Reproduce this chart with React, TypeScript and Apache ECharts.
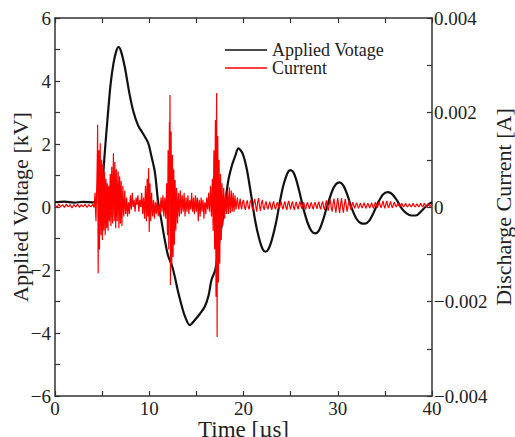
import React, { useEffect, useRef } from "react";
import * as echarts from "echarts";

// Time axis ticks (µs)
const timeTicks = [0, 10, 20, 30, 40];

// Applied voltage: [time µs, kV]
const voltagePoints: [number, number][] = [
  [0, 0.15], [1, 0.17], [2, 0.14], [3, 0.16], [4, 0.15], [4.8, 0.17],
  [5.0, 0.6], [5.3, 1.8], [5.6, 2.9], [5.9, 3.9], [6.2, 4.55], [6.5, 4.95],
  [6.75, 5.08], [7.0, 4.95], [7.4, 4.45], [7.9, 3.6], [8.3, 3.05], [8.8, 2.6],
  [9.3, 2.35], [9.9, 2.02], [10.2, 1.65], [10.6, 1.1], [10.95, 0.15], [11.3, -0.45],
  [11.65, -1.05], [12.0, -1.55], [12.4, -1.85], [12.7, -2.2], [13.1, -2.74],
  [13.5, -3.2], [13.8, -3.48], [14.3, -3.75], [14.8, -3.6], [15.4, -3.38],
  [15.9, -3.16], [16.3, -2.8], [16.6, -2.32], [17.0, -2.0], [17.3, -1.4],
  [17.5, -0.94], [18.0, 0.0], [18.4, 0.86], [18.8, 1.35], [19.1, 1.6],
  [19.45, 1.86], [19.9, 1.7], [20.35, 1.2], [20.8, 0.4], [21.25, -0.45],
  [21.7, -1.05], [22.05, -1.35], [22.35, -1.42], [22.65, -1.33], [23.0, -1.05],
  [23.45, -0.5], [23.85, 0.15], [24.2, 0.65], [24.5, 0.95], [24.75, 1.12],
  [25.0, 1.17], [25.3, 1.1], [25.6, 0.86], [26.0, 0.4], [26.4, -0.1],
  [26.8, -0.5], [27.2, -0.76], [27.6, -0.84], [28.0, -0.75], [28.4, -0.45],
  [28.85, 0.0], [29.4, 0.5], [29.8, 0.72], [30.2, 0.78], [30.6, 0.68],
  [31.0, 0.4], [31.5, -0.05], [32.0, -0.38], [32.5, -0.52], [32.9, -0.53],
  [33.3, -0.45], [33.8, -0.18], [34.3, 0.15], [34.8, 0.4], [35.3, 0.47],
  [35.8, 0.4], [36.3, 0.2], [36.8, -0.05], [37.3, -0.2], [37.8, -0.27],
  [38.3, -0.27], [38.8, -0.15], [39.3, 0.0], [39.7, 0.1], [40.0, 0.15],
];

// Discharge current: [time µs, mA]
const currentPoints: [number, number][] = [
  [0, 0.05], [0.2, -0.01], [0.4, 0.06], [0.6, 0.0], [0.8, 0.05], [1.0, -0.01],
  [1.2, 0.06], [1.4, 0.0], [1.6, 0.05], [1.8, -0.02], [2.0, 0.05], [2.2, 0.0],
  [2.4, 0.06], [2.6, -0.01], [2.8, 0.05], [3.0, 0.0], [3.2, 0.06], [3.4, -0.01],
  [3.6, 0.05], [3.8, 0.0], [4.0, 0.06], [4.15, -0.01],
  [4.25, 0.3], [4.3, -0.1], [4.35, -0.3], [4.4, 0.2], [4.45, 0.6], [4.5, 1.2], [4.52, 1.74], [4.55, 0.2], [4.58, -1.4], [4.62, 0.1], [4.65, 1.2],
  [4.69, 0.3], [4.72, -0.9], [4.76, 0.6], [4.8, 1.35], [4.84, 0.1], [4.88, -0.6], [4.92, 0.4], [4.95, 1.0], [4.99, 0.0], [5.03, -0.7], [5.07, 0.2], [5.1, 0.9],
  [5.14, 0.1], [5.18, -0.5], [5.22, 0.4], [5.25, 0.75], [5.3, 0.0], [5.33, -0.6], [5.37, 0.2], [5.4, 0.6], [5.44, 0.1], [5.48, -0.45], [5.52, 0.3], [5.55, 0.5],
  [5.6, -0.1], [5.63, -0.5], [5.67, 0.2], [5.7, 0.45], [5.74, 0.0], [5.78, -0.3], [5.82, 0.3], [5.86, 0.7], [5.9, 0.0], [5.94, -0.4], [5.98, 0.4], [6.02, 0.85],
  [6.06, 0.1], [6.1, -0.35], [6.15, 0.5], [6.2, 1.14], [6.24, 0.2], [6.28, -0.3], [6.32, 0.4], [6.36, 0.95], [6.4, 0.1], [6.44, -0.45], [6.48, 0.3], [6.52, 0.8],
  [6.56, 0.0], [6.6, -0.3], [6.65, 0.3], [6.7, 0.75], [6.74, 0.1], [6.78, -0.45], [6.82, 0.2], [6.86, 0.65], [6.9, 0.0], [6.94, -0.35], [6.98, 0.2], [7.02, 0.55],
  [7.06, 0.0], [7.1, -0.4], [7.15, 0.1], [7.2, 0.45], [7.25, 0.0], [7.3, -0.2], [7.35, 0.1], [7.4, 0.35], [7.45, 0.05], [7.5, -0.15], [7.55, 0.0], [7.6, 0.2],
  [7.65, 0.0], [7.7, -0.2], [7.75, 0.0], [7.8, 0.1], [7.85, -0.05], [7.9, -0.15], [7.95, 0.1], [8.0, 0.25], [8.05, 0.05], [8.1, -0.05], [8.15, 0.15], [8.2, 0.3],
  [8.25, 0.1], [8.3, 0.0], [8.35, 0.05], [8.4, 0.15], [8.45, 0.0], [8.5, -0.1], [8.55, 0.05], [8.6, 0.2], [8.65, 0.1], [8.7, 0.05], [8.75, 0.15], [8.8, 0.25],
  [8.85, 0.05], [8.9, -0.1], [8.95, 0.05], [9.0, 0.15], [9.05, 0.05], [9.1, 0.0], [9.15, 0.15], [9.2, 0.3], [9.25, 0.05], [9.3, -0.15], [9.35, 0.05], [9.4, 0.2],
  [9.45, 0.0], [9.5, -0.25], [9.55, 0.1], [9.6, 0.45], [9.65, 0.05], [9.7, -0.3], [9.74, 0.2], [9.78, 0.6], [9.82, 0.1], [9.86, -0.2], [9.9, 0.4], [9.93, 0.82],
  [9.97, 0.0], [10.0, -0.53], [10.04, 0.1], [10.08, 0.5], [10.12, 0.0], [10.16, -0.3], [10.2, 0.1], [10.25, 0.3], [10.3, 0.0], [10.35, -0.2], [10.4, 0.0], [10.45, 0.15],
  [10.5, -0.05], [10.55, -0.25], [10.6, 0.0], [10.65, 0.1], [10.7, -0.05], [10.75, -0.15], [10.8, 0.05], [10.85, 0.15], [10.9, -0.05], [10.95, -0.2], [11.0, -0.05], [11.05, 0.05],
  [11.1, -0.05], [11.15, -0.15], [11.2, 0.05], [11.25, 0.2], [11.3, 0.05], [11.35, -0.1], [11.4, 0.1], [11.45, 0.25], [11.5, 0.0], [11.55, -0.2], [11.6, 0.0], [11.65, 0.2],
  [11.7, 0.0], [11.75, -0.25], [11.8, 0.1], [11.85, 0.5], [11.89, 0.0], [11.93, -0.6], [11.97, 0.3], [12.0, 1.2], [12.04, 0.2], [12.07, -0.9], [12.1, 0.5], [12.14, 1.8],
  [12.17, 1.0], [12.2, 2.37], [12.22, 0.5], [12.25, -1.65], [12.28, 0.0], [12.32, 1.6], [12.35, 0.2], [12.39, -1.2], [12.42, 0.1], [12.46, 1.1], [12.5, 0.0], [12.53, -1.06],
  [12.57, 0.0], [12.6, 0.8], [12.64, 0.0], [12.67, -0.8], [12.7, 0.0], [12.74, 0.57], [12.78, 0.0], [12.82, -0.5], [12.86, 0.0], [12.9, 0.4], [12.95, 0.0], [13.0, -0.35],
  [13.05, 0.05], [13.1, 0.3], [13.15, 0.05], [13.2, -0.2], [13.25, 0.1], [13.3, 0.35], [13.35, 0.1], [13.4, -0.15], [13.45, 0.05], [13.5, 0.25], [13.55, 0.05], [13.6, -0.1],
  [13.65, 0.1], [13.7, 0.3], [13.75, 0.0], [13.8, -0.2], [13.85, 0.0], [13.9, 0.2], [13.95, 0.05], [14.0, -0.1], [14.05, 0.05], [14.1, 0.25], [14.15, 0.05], [14.2, -0.15],
  [14.25, 0.0], [14.3, 0.15], [14.35, 0.05], [14.4, -0.05], [14.45, 0.1], [14.5, 0.3], [14.55, 0.05], [14.6, -0.1], [14.65, 0.05], [14.7, 0.2], [14.75, 0.0], [14.8, -0.15],
  [14.85, 0.05], [14.9, 0.25], [14.95, 0.05], [15.0, -0.1], [15.05, 0.05], [15.1, 0.2], [15.15, 0.0], [15.2, -0.3], [15.25, 0.0], [15.3, 0.15], [15.35, 0.0], [15.4, -0.2],
  [15.45, 0.0], [15.5, 0.2], [15.55, 0.05], [15.6, -0.1], [15.65, 0.05], [15.7, 0.15], [15.75, 0.0], [15.8, -0.25], [15.85, 0.0], [15.9, 0.1], [15.95, 0.0], [16.0, -0.15],
  [16.05, 0.05], [16.1, 0.2], [16.15, 0.05], [16.2, -0.05], [16.25, 0.1], [16.3, 0.3], [16.35, 0.05], [16.4, -0.1], [16.45, 0.15], [16.5, 0.45], [16.55, 0.1], [16.6, -0.2],
  [16.65, 0.2], [16.7, 0.6], [16.74, 0.0], [16.78, -0.5], [16.82, 0.4], [16.86, 1.2], [16.9, 0.1], [16.94, -0.9], [16.98, 0.7], [17.02, 1.84], [17.05, 0.0], [17.08, -1.9],
  [17.11, 1.0], [17.15, 2.41], [17.17, 0.0], [17.2, -2.75], [17.23, 0.2], [17.27, 1.5], [17.3, 0.0], [17.34, -1.6], [17.37, 0.1], [17.41, 1.0], [17.44, 0.0], [17.48, -1.2],
  [17.52, 0.0], [17.56, 0.7], [17.6, 0.0], [17.64, -0.7], [17.68, 0.0], [17.72, 0.5], [17.76, 0.05], [17.8, -0.4], [17.85, 0.1], [17.9, 0.4], [17.95, 0.05], [18.0, -0.25],
  [18.05, 0.1], [18.1, 0.3], [18.15, 0.05], [18.2, -0.15], [18.25, 0.1], [18.3, 0.35], [18.35, 0.05], [18.4, -0.15], [18.45, 0.15], [18.5, 0.42], [18.55, 0.1], [18.6, -0.13],
  [18.65, 0.1], [18.7, 0.35], [18.75, 0.1], [18.8, -0.1], [18.85, 0.1], [18.9, 0.3], [18.95, 0.05], [19.0, -0.1], [19.05, 0.1], [19.1, 0.25], [19.15, 0.05], [19.2, -0.05],
  [19.28, 0.1], [19.35, 0.2], [19.42, 0.05], [19.5, -0.05], [19.58, 0.1], [19.65, 0.18], [19.72, 0.03], [19.8, -0.05], [19.9, 0.1], [20.0, 0.15], [20.1, 0.0], [20.2, -0.06],
  [20.3, 0.08], [20.4, 0.14], [20.5, 0.0], [20.6, -0.05], [20.7, 0.1], [20.8, 0.15], [20.9, 0.0], [21.0, -0.08], [21.1, 0.1], [21.2, 0.17], [21.3, 0.02], [21.4, -0.1],
  [21.5, 0.1], [21.6, 0.19], [21.7, 0.02], [21.8, -0.08], [21.9, 0.08], [22.0, 0.15], [22.1, 0.0], [22.2, -0.06], [22.3, 0.06], [22.4, 0.12], [22.5, 0.0], [22.6, -0.05],
  [22.7, 0.05], [22.8, 0.11], [22.9, 0.01], [23.0, -0.06], [23.1, 0.06], [23.2, 0.12], [23.3, 0.0], [23.4, -0.05], [23.5, 0.05], [23.6, 0.1], [23.7, 0.02], [23.8, -0.04],
  [23.9, 0.06], [24.0, 0.11], [24.1, 0.0], [24.2, -0.05], [24.3, 0.06], [24.4, 0.12], [24.5, 0.0], [24.6, -0.06], [24.7, 0.07], [24.8, 0.13], [24.9, 0.02], [25.0, -0.05],
  [25.1, 0.06], [25.2, 0.12], [25.3, 0.0], [25.4, -0.06], [25.5, 0.05], [25.6, 0.11], [25.7, 0.01], [25.8, -0.05], [25.9, 0.06], [26.0, 0.12], [26.1, 0.02], [26.2, -0.04],
  [26.3, 0.05], [26.4, 0.1], [26.5, 0.0], [26.6, -0.05], [26.7, 0.05], [26.8, 0.1], [26.9, 0.02], [27.0, -0.04], [27.1, 0.05], [27.2, 0.1], [27.3, 0.0], [27.4, -0.05],
  [27.5, 0.05], [27.6, 0.1], [27.7, 0.02], [27.8, -0.04], [27.9, 0.06], [28.0, 0.11], [28.1, 0.0], [28.2, -0.05], [28.3, 0.06], [28.4, 0.12], [28.5, 0.0], [28.6, -0.06],
  [28.7, 0.06], [28.8, 0.14], [28.9, 0.0], [29.0, -0.08], [29.1, 0.06], [29.2, 0.16], [29.3, 0.0], [29.4, -0.1], [29.5, 0.06], [29.6, 0.18], [29.7, 0.02], [29.8, -0.12],
  [29.9, 0.05], [30.0, 0.19], [30.1, 0.02], [30.2, -0.13], [30.3, 0.05], [30.4, 0.19], [30.5, 0.0], [30.6, -0.12], [30.7, 0.05], [30.8, 0.17], [30.9, 0.02], [31.0, -0.1],
  [31.1, 0.05], [31.2, 0.14], [31.3, 0.03], [31.4, -0.06], [31.5, 0.04], [31.6, 0.1], [31.7, 0.03], [31.8, -0.03], [31.9, 0.04], [32.0, 0.09], [32.1, 0.03], [32.2, -0.03],
  [32.3, 0.03], [32.4, 0.08], [32.5, 0.02], [32.6, -0.02], [32.7, 0.04], [32.8, 0.09], [32.9, 0.02], [33.0, -0.03], [33.1, 0.03], [33.2, 0.08], [33.3, 0.02], [33.4, -0.02],
  [33.5, 0.04], [33.6, 0.09], [33.7, 0.02], [33.8, -0.03], [33.9, 0.05], [34.0, 0.1], [34.1, 0.03], [34.2, -0.02], [34.3, 0.05], [34.4, 0.11], [34.5, 0.03], [34.6, -0.02],
  [34.7, 0.06], [34.8, 0.13], [34.9, 0.03], [35.0, -0.03], [35.1, 0.06], [35.2, 0.13], [35.3, 0.03], [35.4, -0.02], [35.5, 0.05], [35.6, 0.12], [35.7, 0.03], [35.8, -0.02],
  [35.9, 0.05], [36.0, 0.1], [36.1, 0.04], [36.2, 0.0], [36.3, 0.04], [36.4, 0.08], [36.5, 0.03], [36.6, 0.0], [36.7, 0.04], [36.8, 0.08], [36.9, 0.03], [37.0, 0.0],
  [37.1, 0.04], [37.2, 0.08], [37.3, 0.03], [37.4, 0.0], [37.5, 0.03], [37.6, 0.07], [37.7, 0.03], [37.8, 0.0], [37.9, 0.04], [38.0, 0.08], [38.1, 0.03], [38.2, 0.0],
  [38.3, 0.03], [38.4, 0.07], [38.5, 0.03], [38.6, 0.0], [38.7, 0.04], [38.8, 0.08], [38.9, 0.03], [39.0, 0.0], [39.1, 0.04], [39.2, 0.08], [39.3, 0.03], [39.4, 0.0],
  [39.5, 0.03], [39.6, 0.07], [39.7, 0.03], [39.8, 0.01], [39.9, 0.04], [40.0, 0.06],
];

const seriesNames = ["Applied Votage", "Current"];
const FONT = "'Liberation Serif', 'Times New Roman', serif";
const AXIS_COLOR = "#333";
const TEXT_COLOR = "#222";

const fmtMinus = (s: string) => s.replace("-", "\u2212");

export default function App() {
  const ref = useRef<HTMLDivElement>(null);
  useEffect(() => {
    if (!ref.current) return;
    const chart = echarts.init(ref.current, undefined, { renderer: "svg" });
    const tickCommon = {
      axisLine: { show: true, onZero: false, lineStyle: { color: AXIS_COLOR, width: 1.5 } },
      axisTick: { show: true, inside: true, length: 5, lineStyle: { color: AXIS_COLOR, width: 1.2 } },
      minorTick: { show: true, splitNumber: 2, length: 5, lineStyle: { color: AXIS_COLOR, width: 1.2 } },
      splitLine: { show: false },
      minorSplitLine: { show: false },
    };
    const labelStyle = { fontFamily: FONT, fontSize: 19, color: TEXT_COLOR };
    const nameStyle = { fontFamily: FONT, fontSize: 22, color: TEXT_COLOR };
    chart.setOption({
      animation: false,
      grid: { left: 55, right: 83, top: 18, bottom: 41, containLabel: false, outerBoundsMode: "none" },
      legend: {
        data: seriesNames,
        orient: "vertical",
        left: 225,
        top: 41,
        itemWidth: 42,
        itemHeight: 1.5,
        itemGap: 0,
        icon: "rect",
        padding: 0,
        textStyle: { fontFamily: FONT, fontSize: 18, color: TEXT_COLOR, lineHeight: 16 },
      },
      xAxis: [
        {
          type: "value",
          position: "bottom",
          min: timeTicks[0],
          max: timeTicks[timeTicks.length - 1],
          interval: 10,
          name: "Time [\u00b5s]",
          nameLocation: "middle",
          nameGap: 22,
          nameMoveOverlap: false,
          nameTextStyle: { ...nameStyle, fontSize: 23 },
          axisLabel: { ...labelStyle, margin: 3 },
          ...tickCommon,
        },
        {
          type: "value",
          position: "top",
          min: timeTicks[0],
          max: timeTicks[timeTicks.length - 1],
          interval: 10,
          axisLabel: { show: false },
          ...tickCommon,
        },
      ],
      yAxis: [
        {
          type: "value",
          position: "left",
          min: -6,
          max: 6,
          interval: 2,
          name: "Applied Voltage [kV]",
          nameLocation: "middle",
          nameGap: 24,
          nameMoveOverlap: false,
          nameTextStyle: nameStyle,
          axisLabel: { ...labelStyle, margin: 4, formatter: (v: number) => fmtMinus(String(v)) },
          ...tickCommon,
        },
        {
          type: "value",
          position: "right",
          min: -0.004,
          max: 0.004,
          interval: 0.002,
          name: "Discharge Current [A]",
          nameLocation: "middle",
          nameGap: 60,
          nameMoveOverlap: false,
          nameTextStyle: nameStyle,
          axisLabel: {
            ...labelStyle,
            margin: 2,
            formatter: (v: number) => (Math.abs(v) < 1e-9 ? "0" : fmtMinus(v.toFixed(3))),
          },
          ...tickCommon,
        },
      ],
      series: [
        {
          name: seriesNames[0],
          type: "line",
          xAxisIndex: 0,
          yAxisIndex: 0,
          data: voltagePoints,
          showSymbol: false,
          symbol: "none",
          smooth: 0.3,
          lineStyle: { color: "#111", width: 2.2 },
          itemStyle: { color: "#111" },
        },
        {
          name: seriesNames[1],
          type: "line",
          xAxisIndex: 0,
          yAxisIndex: 1,
          data: currentPoints.map(([t, mA]) => [t, mA / 1000]),
          showSymbol: false,
          symbol: "none",
          lineStyle: { color: "#ff0000", width: 1.2 },
          itemStyle: { color: "#ff0000" },
        },
      ],
    });
    return () => chart.dispose();
  }, []);
  return (
    <div
      ref={ref}
      style={{ position: "absolute", left: 0, top: 0, width: 515, height: 437, background: "#fff" }}
    />
  );
}
